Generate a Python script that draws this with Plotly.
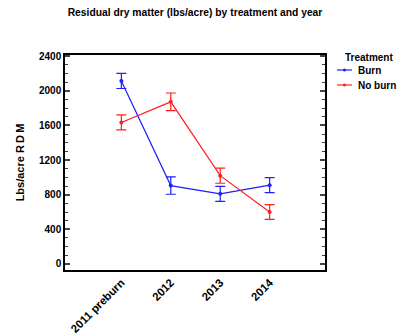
import plotly.graph_objects as go

years = ["2011 preburn", "2012", "2013", "2014"]
burn = [2114, 905, 810, 910]
burn_err = [87, 100, 87, 87]
noburn = [1635, 1873, 1020, 600]
noburn_err = [87, 102, 88, 86]
yticks = [0, 400, 800, 1200, 1600, 2000, 2400]
series_names = ["Burn", "No burn"]
colors = ["#1f1fff", "#ff1f1f"]

W, H = 398, 334
L, R, T, B = 65, 73, 55, 64
PW, PH = W - L - R, H - T - B


def px(x):
    return (x - L) / PW


def py(y):
    return 1 - (y - T) / PH


font = "Liberation Sans, Arial, sans-serif"
fig = go.Figure()
for name, vals, err, col in zip(series_names, [burn, noburn], [burn_err, noburn_err], colors):
    fig.add_trace(go.Scatter(
        x=list(range(len(years))), y=vals, name=name, mode="lines+markers",
        line=dict(color=col, width=1.2), marker=dict(color=col, size=4),
        error_y=dict(type="data", array=err, visible=True, color=col, thickness=1.2, width=5),
        showlegend=False,
    ))

# manual compact legend
annots = [dict(text="<b>Treatment</b>", x=px(369), y=py(57.5), xref="paper", yref="paper",
               showarrow=False, xanchor="center", yanchor="middle", font=dict(size=10))]
shapes = []
for i, (name, col) in enumerate(zip(series_names, colors)):
    yy = 70 + i * 15
    annots.append(dict(text="<b>%s</b>" % name, x=px(356), y=py(yy), xref="paper", yref="paper",
                       showarrow=False, xanchor="left", yanchor="middle", font=dict(size=10)))
    shapes.append(dict(type="line", x0=px(337), x1=px(352), y0=py(yy), y1=py(yy),
                       xref="paper", yref="paper", line=dict(color=col, width=1.2)))
    shapes.append(dict(type="circle", x0=px(343), x1=px(346), y0=py(yy - 1.5), y1=py(yy + 1.5),
                       xref="paper", yref="paper", line=dict(color=col, width=0), fillcolor=col))

fig.update_layout(
    width=W, height=H, margin=dict(l=L, r=R, t=T, b=B, autoexpand=False),
    plot_bgcolor="white", paper_bgcolor="white",
    font=dict(family=font, size=10, color="black"),
    title=dict(text="<b>Residual dry matter (lbs/acre) by treatment and year</b>",
               x=0.49, xanchor="center", y=0.975, yanchor="top", font=dict(size=10.3)),
    showlegend=False, annotations=annots, shapes=shapes,
)
fig.update_xaxes(range=[-1.14, 4.12], tickmode="array", tickvals=list(range(len(years))),
                 ticktext=["<b>%s</b>" % y for y in years], tickangle=-45,
                 tickfont=dict(size=11.3),
                 showline=True, linecolor="black", linewidth=1.5, mirror=True,
                 ticks="", showgrid=False, zeroline=False)
fig.update_yaxes(range=[-70, 2414], tickmode="array", tickvals=yticks,
                 ticktext=["<b>%d</b>" % v for v in yticks],
                 showline=True, linecolor="black", linewidth=1.5, mirror="allticks",
                 ticks="inside", ticklen=5, tickwidth=1.5,
                 minor=dict(dtick=100, ticks="inside", ticklen=3, tickwidth=1, tick0=0),
                 showgrid=False, zeroline=False,
                 title=dict(text="<b>Lbs/acre R\u2009D\u2009M</b>", font=dict(size=11), standoff=12))
fig.write_html("out.html")
